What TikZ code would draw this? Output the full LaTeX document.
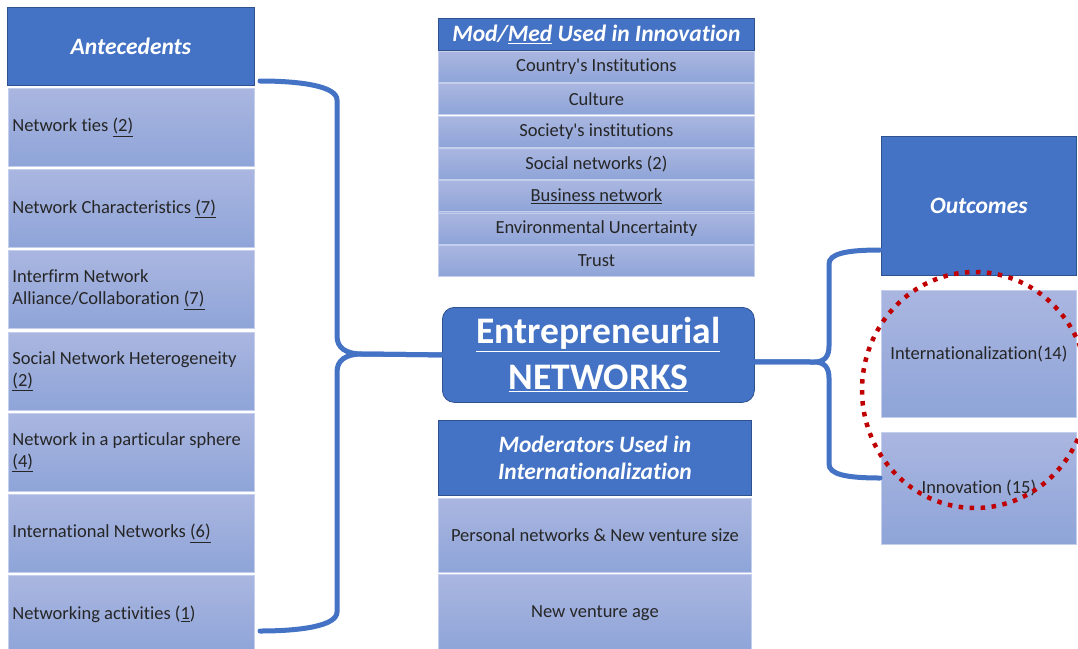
\documentclass[tikz,border=0pt]{standalone}
\usepackage[rgb]{xcolor}
\usepackage{fontspec}
\setmainfont{Carlito}[Ligatures={NoCommon}]
\usepackage{tikz}

\definecolor{hdrblue}{RGB}{68,114,196}
\definecolor{hdrline}{RGB}{47,82,143}
\definecolor{celltop}{RGB}{170,182,224}
\definecolor{cellbot}{RGB}{142,164,216}
\definecolor{cellline}{RGB}{196,207,238}
\definecolor{ringred}{RGB}{192,0,0}

\tikzset{
 header/.style={draw=hdrline, line width=0.8pt, fill=hdrblue, text=white,
   font=\fontsize{23.5}{27}\selectfont\bfseries\itshape, align=center,
   anchor=north west, inner sep=0pt},
 cell/.style={draw=cellline, line width=0.8pt, top color=celltop, bottom color=cellbot,
   text=black!85, font=\fontsize{18.5}{22}\selectfont, anchor=north west, inner sep=0pt},
 leftcell/.style={cell, align=flush left, text width=238pt, inner xsep=4pt,
   minimum width=246pt, minimum height=78pt},
 brace/.style={draw=hdrblue, line width=5pt, line cap=round}
}

\begin{document}
\begin{tikzpicture}[x=1pt, y=-1pt]

\clip (0,0) rectangle (1078,648);

%% left column
\path
(7,7) node[header, minimum width=247pt, minimum height=78pt] (ante){Antecedents};

\foreach \txt [count=\i from 0] in {Network ties \underline{(2)},
  Network Characteristics \underline{(7)},
  Interfirm Network\\Alliance/Collaboration \underline{(7)},
  Social Network Heterogeneity\\\underline{(2)},
  Network in a particular sphere\\\underline{(4)},
  International Networks \underline{(6)},
  Networking activities (\underline{1})}
  {
  \path
  (8,{88+81.2*\i}) node[leftcell] (ant\i){\txt};
  }

%% middle column, upper table
\path
(438,18) node[header, minimum width=316pt, minimum height=32pt] (modmed){Mod/\underline{Med} Used in Innovation};

\foreach \txt [count=\i from 0] in {Country\textquotesingle s Institutions, Culture,
  Society\textquotesingle s institutions, Social networks (2), \underline{Business network},
  Environmental Uncertainty, Trust}
  {
  \path
  (438,{51+32.3*\i}) node[cell, minimum width=316pt, minimum height=31pt] (mm\i){\txt};
  }

% the core box
\path
(442,307) node[anchor=north west, draw=hdrline, line width=0.8pt, fill=hdrblue,
  rounded corners=12pt, minimum width=312pt, minimum height=95pt, inner sep=0pt,
  text=white, align=center, font=\fontsize{37.5}{46}\selectfont\bfseries]
  (core){\underline{Entrepreneurial}\\\underline{NETWORKS}};

%% middle column, lower table
\path
(438,420) node[header, minimum width=313pt, minimum height=75pt] (moder){Moderators Used in\\Internationalization};
\path
(438,498) node[cell, minimum width=313pt, minimum height=74pt] (mod0){Personal networks \& New venture size};
\path
(438,574) node[cell, minimum width=313pt, minimum height=78pt] (mod1){New venture age};

%% right column
\path
(881,136) node[header, minimum width=195pt, minimum height=139pt] (outc){Outcomes};
\path
(881,290) node[cell, minimum width=195pt, minimum height=127pt] (intl){Internationalization(14)};
\path
(881,432) node[cell, minimum width=195pt, minimum height=112pt] (innov){Innovation (15)};

%% braces
\draw[brace] (core.west) -- (362,354)
  .. controls (346,354) and (337,348) .. (337,336) -- (337,100)
  .. controls (337,86) and (300,81) .. (260,81);
\draw[brace] (core.west) -- (362,354)
  .. controls (346,354) and (337,360) .. (337,372) -- (337,612)
  .. controls (337,626) and (300,631) .. (260,631);

\draw[brace] ([yshift=-7pt]core.east) -- (814,362)
  .. controls (825,362) and (829,356) .. (829,346) -- (829,264)
  .. controls (829,254) and (845,250) .. (880,250);
\draw[brace] ([yshift=-7pt]core.east) -- (814,362)
  .. controls (825,362) and (829,368) .. (829,378) -- (829,464)
  .. controls (829,474) and (845,478) .. (880,478);

% red ring round the outcomes
\draw[ringred, line width=4.5pt, dash pattern=on 4.5pt off 6.5pt]
 (975,390) ellipse [x radius=113pt, y radius=118pt];

\end{tikzpicture}
\end{document}
